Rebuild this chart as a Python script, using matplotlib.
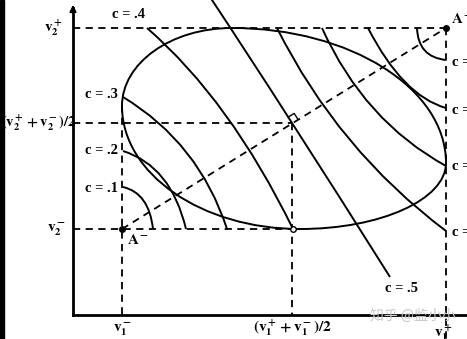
"""
Iso-value curves c = .1 ... .9 over the box A- .. A+, with the ellipse.
Drawn in pixel-like coordinates (x right, y down) of the original scan.
"""

import numpy as np
from matplotlib import pyplot as plt
from matplotlib.patches import PathPatch, Rectangle
from matplotlib.path import Path

plt.rcParams['mathtext.fontset'] = 'stix'
plt.rcParams['mathtext.default'] = 'bf'

# box corners and midpoint
x_lo, x_mid, x_hi = 122, 292, 446
y_lo, y_mid, y_hi = 229, 123, 28
x_axis, y_axis = 315, 73

# hand drawn ellipse: where it touches the box (top, right, bottom, left)
ell_touch = [(232, 28), (446, 163), (300, 229), (122, 106)]

# c curves: start, bezier control, end
c_labels = ['c = .1', 'c = .2', 'c = .3', 'c = .4', 'c = .5',
            'c = .6', 'c = .7', 'c = .8', 'c = .9']
c_start = [(123, 187), (123, 151), (123, 97), (147, 28), (210, -3),
           (277, 28), (322, 28), (368, 28), (417, 28)]
c_ctrl = [(149, 193), (171, 166), (199, 143), (230, 100), (283, 107),
          (338, 150), (364, 121), (403, 96), (418, 57)]
c_end = [(153, 229), (186, 229), (227, 229), (293, 229), (390, 277),
         (446, 231), (446, 166), (446, 108), (446, 60)]

# where each c label sits and how it is anchored
c_label_pos = [(118, 189), (118, 151), (118, 94), (128, 15), (385, 289),
               (452, 232), (452, 166), (452, 110), (452, 62)]
c_label_ha = ['right', 'right', 'right', 'center', 'left',
              'left', 'left', 'left', 'left']

fig = plt.figure(figsize=(4.67, 3.39), dpi=100)
ax = fig.add_axes([0, 0, 1, 1])
ax.set_xlim(0, 467)
ax.set_ylim(339, 0)
ax.axis('off')

lw = 1.4
dash = dict(color='black', lw=1.3, ls=(0, (4, 3)))

# axes with arrow
ax.plot([y_axis, 467], [x_axis, x_axis], color='black', lw=2)
ax.plot([y_axis, y_axis], [x_axis, 8], color='black', lw=2)
ax.annotate('', xy=(y_axis, 2), xytext=(y_axis, 12),
            arrowprops=dict(arrowstyle='-|>', color='black', lw=1.5,
                            mutation_scale=9))

# dashed guides
ax.plot([y_axis, x_hi], [y_hi, y_hi], **dash)
ax.plot([y_axis, x_mid], [y_mid, y_mid], **dash)
ax.plot([y_axis, x_mid], [y_lo, y_lo], **dash)
ax.plot([x_lo, x_lo], [105, x_axis], **dash)
ax.plot([x_mid, x_mid], [y_mid, x_axis], **dash)
ax.plot([x_hi, x_hi], [y_hi, 339], **dash)
ax.plot([x_lo, x_hi], [y_lo, y_hi], **dash)

# ellipse as four cubic arcs between the touch points
k = 0.5523
verts = [ell_touch[0]]
codes = [Path.MOVETO]
for i in range(4):
    p0 = np.array(ell_touch[i], dtype=float)
    p1 = np.array(ell_touch[(i + 1) % 4], dtype=float)
    # top/bottom points have horizontal tangents, left/right vertical
    if i % 2 == 0:
        c0 = (p0[0] + k * (p1[0] - p0[0]), p0[1])
        c1 = (p1[0], p1[1] + k * (p0[1] - p1[1]))
    else:
        c0 = (p0[0], p0[1] + k * (p1[1] - p0[1]))
        c1 = (p1[0] + k * (p0[0] - p1[0]), p1[1])
    verts += [c0, c1, tuple(p1)]
    codes += [Path.CURVE4] * 3
ax.add_patch(PathPatch(Path(verts, codes), fill=False, color='black', lw=lw))

# c curves
codes = [Path.MOVETO, Path.CURVE3, Path.CURVE3]
for s, c, e in zip(c_start, c_ctrl, c_end):
    ax.add_patch(PathPatch(Path([s, c, e], codes), fill=False,
                           color='black', lw=lw))

for lab, (tx, ty), ha in zip(c_labels, c_label_pos, c_label_ha):
    ax.text(tx, ty, lab, ha=ha, va='center', fontsize=10.5,
            family='Liberation Serif', weight='bold')

# right angle mark at the midpoint
u = np.array(c_end[4]) - np.array(c_start[4])
u = u / np.hypot(*u)
d = np.array([x_hi - x_lo, y_hi - y_lo], dtype=float)
d = d / np.hypot(*d)
m = np.array([x_mid, y_mid])
s = 7
sq = np.array([m - s * u, m - s * u + s * d, m + s * d])
ax.plot(sq[:, 0], sq[:, 1], color='black', lw=1)

# points
ax.plot([x_lo, x_hi], [y_lo, y_hi], 'o', color='black', ms=4)
ax.plot([293], [229], 'o', mfc='white', mec='black', ms=4, mew=1)

# axis labels
tk = dict(fontsize=11, va='center')
ax.text(63, y_hi, r'$v_2^+$', ha='right', **tk)
ax.text(1, y_mid, r'$(v_2^+ + v_2^-)/2$', ha='left', fontsize=10.5,
        va='center')
ax.text(66, y_lo, r'$v_2^-$', ha='right', **tk)
ax.text(x_lo, 329, r'$v_1^-$', ha='center', **tk)
ax.text(x_mid, 328, r'$(v_1^+ + v_1^-)/2$', ha='center', **tk)
ax.text(x_hi - 3, 333, r'$v_1^+$', ha='center', **tk)
ax.text(127, 239, r'$A^-$', ha='left', **tk)
ax.text(451, 20, r'$A^+$', ha='left', **tk)

# scan border and watermark
ax.add_patch(Rectangle((0, 0), 4, 339, color='black'))
ax.text(370, 316, '知乎 @监小小', ha='left', va='center', fontsize=10,
        color='#c8c8c8', family=['Noto Sans CJK SC', 'DejaVu Sans'])

fig.savefig('out.png', dpi=100)
